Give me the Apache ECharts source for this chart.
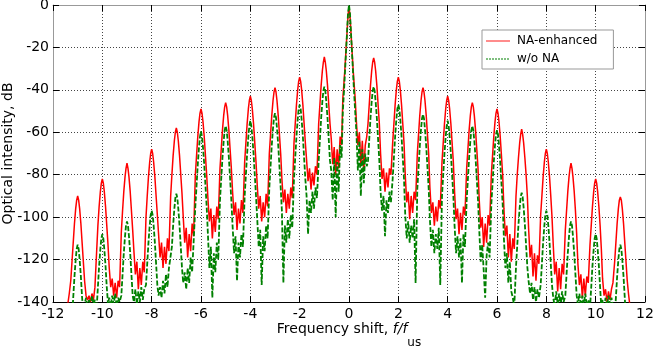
<!DOCTYPE html>
<html>
<head>
<meta charset="utf-8">
<script src="https://cdn.jsdelivr.net/npm/echarts@6/dist/echarts.min.js"></script>
<style>
  html, body { margin: 0; padding: 0; background: #fff; }
  #chart { width: 654px; height: 346px; }
</style>
</head>
<body>
<div id="chart"></div>
<script>
// axis ranges (frequency shift in units of f_us, intensity in dB)
const xRange = [-12, 12];
const yRange = [-140, 0];
const seriesNames = ['NA-enhanced', 'w/o NA'];

// NA-enhanced spectrum, [f/f_us, dB]
const naEnhanced = [
  [-11.40,-141],[-11.34,-136],[-11.28,-130],
  // -11
  [-11.23,-121],[-11.18,-112],[-11.13,-103],[-11.08,-96],[-11.04,-92],[-11.00,-90],[-10.96,-92],[-10.92,-96],[-10.87,-103],[-10.82,-112],[-10.77,-121],
  [-10.72,-130],[-10.66,-137],[-10.60,-139],[-10.54,-137],[-10.48,-140],[-10.42,-136],[-10.36,-139],[-10.30,-133],
  // -10
  [-10.23,-116],[-10.18,-104],[-10.13,-95],[-10.08,-88],[-10.04,-84],[-10.00,-82],[-9.96,-84],[-9.92,-88],[-9.87,-95],[-9.82,-104],[-9.77,-113],
  [-9.72,-124],[-9.66,-133],[-9.60,-129],[-9.54,-137],[-9.48,-131],[-9.42,-138],[-9.36,-130],[-9.30,-133],
  // -9
  [-9.23,-107],[-9.18,-97],[-9.13,-88],[-9.08,-81],[-9.04,-77],[-9.00,-74.5],[-8.96,-77],[-8.92,-81],[-8.87,-88],[-8.82,-97],[-8.77,-106],
  [-8.72,-116],[-8.66,-127],[-8.60,-121],[-8.54,-134],[-8.48,-124],[-8.42,-132],[-8.36,-121],[-8.30,-126],
  // -8
  [-8.23,-100],[-8.18,-90],[-8.13,-81],[-8.08,-74],[-8.04,-70],[-8.00,-68],[-7.96,-70],[-7.92,-74],[-7.87,-81],[-7.82,-90],[-7.77,-99],
  [-7.72,-108],[-7.66,-119],[-7.60,-112],[-7.54,-124],[-7.48,-114],[-7.42,-122],[-7.36,-110],[-7.30,-116],
  // -7
  [-7.23,-90],[-7.18,-80],[-7.13,-71],[-7.08,-64],[-7.04,-60],[-7.00,-58],[-6.96,-60],[-6.92,-64],[-6.87,-71],[-6.82,-80],[-6.77,-89],
  [-6.72,-100],[-6.66,-112],[-6.60,-105],[-6.54,-119],[-6.48,-108],[-6.42,-116],[-6.36,-103],[-6.30,-109],
  // -6
  [-6.23,-80],[-6.18,-71],[-6.13,-62],[-6.08,-55],[-6.04,-51],[-6.00,-49],[-5.96,-51],[-5.92,-55],[-5.87,-62],[-5.82,-71],[-5.77,-80],
  [-5.72,-91],[-5.66,-102],[-5.60,-96],[-5.54,-110],[-5.48,-99],[-5.42,-107],[-5.36,-95],[-5.30,-101],
  // -5
  [-5.23,-77],[-5.18,-68],[-5.13,-59],[-5.08,-52],[-5.04,-48],[-5.00,-46],[-4.96,-48],[-4.92,-52],[-4.87,-59],[-4.82,-68],[-4.77,-77],
  [-4.72,-88],[-4.66,-99],[-4.60,-93],[-4.54,-106],[-4.48,-96],[-4.42,-103],[-4.36,-92],[-4.30,-98],
  // -4
  [-4.23,-74],[-4.18,-65],[-4.13,-56],[-4.08,-49],[-4.04,-45],[-4.00,-43],[-3.96,-45],[-3.92,-49],[-3.87,-56],[-3.82,-65],[-3.77,-74],
  [-3.72,-85],[-3.66,-96],[-3.60,-90],[-3.54,-102],[-3.48,-93],[-3.42,-100],[-3.36,-89],[-3.30,-95],
  // -3
  [-3.23,-70],[-3.18,-61],[-3.13,-52],[-3.08,-45],[-3.04,-41],[-3.00,-39],[-2.96,-41],[-2.92,-45],[-2.87,-52],[-2.82,-61],[-2.77,-70],
  [-2.72,-82],[-2.66,-93],[-2.60,-87],[-2.54,-98],[-2.48,-89],[-2.42,-96],[-2.36,-86],[-2.30,-91],
  // -2
  [-2.23,-65],[-2.18,-56],[-2.13,-47],[-2.08,-40],[-2.04,-36],[-2.00,-34],[-1.96,-36],[-1.92,-40],[-1.87,-47],[-1.82,-56],[-1.77,-65],
  [-1.72,-73],[-1.66,-83],[-1.60,-77],[-1.54,-87],[-1.48,-79],[-1.42,-85],[-1.36,-76],[-1.30,-80],
  // -1
  [-1.23,-56],[-1.18,-47],[-1.13,-38],[-1.08,-31],[-1.04,-27],[-1.00,-24.5],[-0.96,-27],[-0.92,-31],[-0.87,-38],[-0.82,-47],[-0.77,-56],
  [-0.72,-63],[-0.66,-75],[-0.60,-67],[-0.54,-80],[-0.48,-68],[-0.42,-77],[-0.36,-62],[-0.30,-66],
  // 0
  [-0.25,-44],[-0.20,-36],[-0.16,-29],[-0.12,-21],[-0.08,-13],[-0.04,-5],[0.00,-1],[0.04,-5],[0.08,-13],[0.12,-21],[0.16,-29],[0.20,-36],[0.25,-44],
  [0.30,-55],[0.36,-66],[0.42,-60],[0.48,-76],[0.54,-64],[0.60,-78],[0.66,-66],[0.72,-62],
  // 1
  [0.77,-56],[0.82,-47],[0.87,-38],[0.92,-31],[0.96,-27],[1.00,-25],[1.04,-27],[1.08,-31],[1.13,-38],[1.18,-47],[1.23,-56],
  [1.28,-70],[1.34,-82],[1.40,-77],[1.46,-88],[1.52,-79],[1.58,-86],[1.64,-77],[1.70,-80],
  // 2
  [1.77,-65],[1.82,-56],[1.87,-47],[1.92,-40],[1.96,-36],[2.00,-34],[2.04,-36],[2.08,-40],[2.13,-47],[2.18,-56],[2.23,-65],
  [2.28,-80],[2.34,-93],[2.40,-88],[2.46,-101],[2.52,-90],[2.58,-98],[2.64,-88],[2.70,-92],
  // 3
  [2.77,-70],[2.82,-61],[2.87,-52],[2.92,-45],[2.96,-41],[3.00,-39],[3.04,-41],[3.08,-45],[3.13,-52],[3.18,-61],[3.23,-70],
  [3.28,-86],[3.34,-98],[3.40,-93],[3.46,-104],[3.52,-95],[3.58,-102],[3.64,-92],[3.70,-96],
  // 4
  [3.77,-74],[3.82,-65],[3.87,-56],[3.92,-49],[3.96,-45],[4.00,-43],[4.04,-45],[4.08,-49],[4.13,-56],[4.18,-65],[4.23,-74],
  [4.28,-88],[4.34,-101],[4.40,-96],[4.46,-108],[4.52,-98],[4.58,-106],[4.64,-95],[4.70,-99],
  // 5
  [4.77,-77],[4.82,-68],[4.87,-59],[4.92,-52],[4.96,-48],[5.00,-46],[5.04,-48],[5.08,-52],[5.13,-59],[5.18,-68],[5.23,-77],
  [5.28,-92],[5.34,-105],[5.40,-100],[5.46,-114],[5.52,-103],[5.58,-112],[5.64,-99],[5.70,-104],
  // 6
  [5.77,-80],[5.82,-71],[5.87,-62],[5.92,-55],[5.96,-51],[6.00,-49],[6.04,-51],[6.08,-55],[6.13,-62],[6.18,-71],[6.23,-80],
  [6.28,-96],[6.34,-109],[6.40,-104],[6.46,-119],[6.52,-108],[6.58,-121],[6.64,-110],[6.70,-115],
  // 7
  [6.77,-90],[6.82,-80],[6.87,-72],[6.92,-65],[6.96,-61],[7.00,-58.5],[7.04,-61],[7.08,-65],[7.13,-72],[7.18,-80],[7.23,-90],
  [7.28,-105],[7.34,-119],[7.40,-113],[7.46,-128],[7.52,-117],[7.58,-130],[7.64,-118],[7.70,-122],
  // 8
  [7.77,-99],[7.82,-90],[7.87,-81],[7.92,-74],[7.96,-70],[8.00,-68],[8.04,-70],[8.08,-74],[8.13,-81],[8.18,-90],[8.23,-100],
  [8.28,-113],[8.34,-127],[8.40,-121],[8.46,-135],[8.52,-124],[8.58,-134],[8.64,-122],[8.70,-127],
  // 9
  [8.77,-106],[8.82,-97],[8.87,-88],[8.92,-81],[8.96,-77],[9.00,-74.5],[9.04,-77],[9.08,-81],[9.13,-88],[9.18,-97],[9.23,-108],
  [9.28,-122],[9.34,-132],[9.40,-127],[9.46,-138],[9.52,-129],[9.58,-137],[9.64,-128],[9.70,-131],
  // 10
  [9.77,-113],[9.82,-104],[9.87,-95],[9.92,-88],[9.96,-84],[10.00,-82],[10.04,-84],[10.08,-88],[10.13,-95],[10.18,-104],[10.23,-115],
  [10.28,-129],[10.34,-137],[10.40,-134],[10.46,-140],[10.52,-135],[10.58,-139],[10.64,-134],[10.70,-131],
  // 11
  [10.77,-121],[10.82,-112],[10.87,-103],[10.92,-96],[10.96,-92],[11.00,-90.5],[11.04,-92],[11.08,-96],[11.13,-103],[11.18,-112],[11.23,-121],
  [11.28,-130],[11.33,-136],[11.38,-141]
];

// spectrum without NA
const withoutNA = [
  // -11
  [-11.23,-148],[-11.18,-138],[-11.13,-128],[-11.08,-120],[-11.04,-115],[-11.00,-113],[-10.96,-115],[-10.92,-120],[-10.87,-128],[-10.82,-138],[-10.77,-145],
  [-10.72,-141],[-10.66,-138],[-10.60,-143],[-10.54,-139],[-10.48,-142],[-10.42,-137],[-10.36,-141],[-10.30,-139],
  // -10
  [-10.23,-143],[-10.18,-133],[-10.13,-123],[-10.08,-115],[-10.04,-110],[-10.00,-108],[-9.96,-110],[-9.92,-115],[-9.87,-123],[-9.82,-133],[-9.77,-141],
  [-9.72,-138],[-9.66,-142],[-9.60,-137],[-9.54,-141],[-9.48,-136],[-9.42,-142],[-9.36,-138],[-9.30,-140],
  // -9
  [-9.23,-137],[-9.18,-127],[-9.13,-117],[-9.08,-109],[-9.04,-104],[-9.00,-102],[-8.96,-104],[-8.92,-109],[-8.87,-117],[-8.82,-127],[-8.77,-137],
  [-8.72,-140],[-8.66,-134],[-8.60,-141],[-8.54,-135],[-8.48,-140],[-8.42,-133],[-8.36,-139],[-8.30,-134],
  // -8
  [-8.23,-132],[-8.18,-122],[-8.13,-112],[-8.08,-104],[-8.04,-99],[-8.00,-97],[-7.96,-99],[-7.92,-104],[-7.87,-112],[-7.82,-122],[-7.77,-132],
  [-7.72,-137],[-7.66,-133],[-7.60,-138],[-7.54,-130],[-7.48,-136],[-7.42,-127],[-7.36,-133],[-7.30,-124],
  // -7
  [-7.23,-124],[-7.18,-114],[-7.13,-104],[-7.08,-96],[-7.04,-91],[-7.00,-89],[-6.96,-91],[-6.92,-96],[-6.87,-104],[-6.82,-114],[-6.77,-124],
  [-6.72,-131],[-6.66,-126],[-6.60,-134],[-6.54,-124],[-6.48,-131],[-6.42,-119],[-6.36,-126],[-6.30,-112],
  // -6
  [-6.23,-95],[-6.18,-85],[-6.13,-75],[-6.08,-67],[-6.04,-62],[-6.00,-59.5],[-5.96,-62],[-5.92,-67],[-5.87,-75],[-5.82,-85],[-5.77,-95],
  [-5.72,-108],[-5.66,-124],[-5.60,-114],[-5.54,-138],[-5.48,-117],[-5.42,-126],[-5.36,-112],[-5.30,-120],
  // -5
  [-5.23,-92],[-5.18,-82],[-5.13,-72],[-5.08,-64],[-5.04,-59],[-5.00,-57],[-4.96,-59],[-4.92,-64],[-4.87,-72],[-4.82,-82],[-4.77,-92],
  [-4.72,-104],[-4.66,-117],[-4.60,-109],[-4.54,-130],[-4.48,-112],[-4.42,-119],[-4.36,-108],[-4.30,-114],
  // -4
  [-4.23,-90],[-4.18,-80],[-4.13,-70],[-4.08,-62],[-4.04,-57],[-4.00,-54.5],[-3.96,-57],[-3.92,-62],[-3.87,-70],[-3.82,-80],[-3.77,-90],
  [-3.72,-101],[-3.66,-114],[-3.60,-106],[-3.54,-132],[-3.48,-109],[-3.42,-116],[-3.36,-104],[-3.30,-110],
  // -3
  [-3.23,-86],[-3.18,-76],[-3.13,-66],[-3.08,-58],[-3.04,-53],[-3.00,-51],[-2.96,-53],[-2.92,-58],[-2.87,-66],[-2.82,-76],[-2.77,-86],
  [-2.72,-97],[-2.66,-131],[-2.60,-104],[-2.54,-112],[-2.48,-101],[-2.42,-110],[-2.36,-99],[-2.30,-105],
  // -2
  [-2.23,-82],[-2.18,-72],[-2.13,-62],[-2.08,-54],[-2.04,-49],[-2.00,-47],[-1.96,-49],[-1.92,-54],[-1.87,-62],[-1.82,-72],[-1.77,-82],
  [-1.72,-90],[-1.66,-108],[-1.60,-92],[-1.54,-98],[-1.48,-88],[-1.42,-96],[-1.36,-86],[-1.30,-91],
  // -1
  [-1.23,-73.5],[-1.18,-63.5],[-1.13,-53.5],[-1.08,-45.5],[-1.04,-40.5],[-1.00,-38.5],[-0.96,-40.5],[-0.92,-45.5],[-0.87,-53.5],[-0.82,-63.5],[-0.77,-73.5],
  [-0.72,-78],[-0.66,-92],[-0.60,-72],[-0.54,-100],[-0.48,-74],[-0.42,-88],[-0.36,-66],[-0.30,-72],
  // 0
  [-0.25,-50],[-0.20,-40],[-0.16,-31],[-0.12,-22],[-0.08,-13],[-0.04,-4],[0.00,0],[0.04,-4],[0.08,-13],[0.12,-22],[0.16,-31],[0.20,-40],[0.25,-50],
  [0.30,-60],[0.36,-78],[0.42,-64],[0.48,-90],[0.54,-68],[0.60,-84],[0.66,-70],[0.72,-76],
  // 1
  [0.77,-73.5],[0.82,-63.5],[0.87,-53.5],[0.92,-45.5],[0.96,-40.5],[1.00,-38.5],[1.04,-40.5],[1.08,-45.5],[1.13,-53.5],[1.18,-63.5],[1.23,-73.5],
  [1.28,-88],[1.34,-97],[1.40,-90],[1.46,-109],[1.52,-92],[1.58,-98],[1.64,-88],[1.70,-93],
  // 2
  [1.77,-82],[1.82,-72],[1.87,-62],[1.92,-54],[1.96,-49],[2.00,-47],[2.04,-49],[2.08,-54],[2.13,-62],[2.18,-72],[2.23,-82],
  [2.28,-99],[2.34,-110],[2.40,-102],[2.46,-112],[2.52,-104],[2.58,-110],[2.64,-101],[2.70,-131],
  // 3
  [2.77,-86.5],[2.82,-76.5],[2.87,-66.5],[2.92,-58.5],[2.96,-53.5],[3.00,-51.5],[3.04,-53.5],[3.08,-58.5],[3.13,-66.5],[3.18,-76.5],[3.23,-86.5],
  [3.28,-101],[3.34,-114],[3.40,-106],[3.46,-117],[3.52,-108],[3.58,-115],[3.64,-105],[3.70,-132],
  // 4
  [3.77,-90],[3.82,-80],[3.87,-70],[3.92,-62],[3.96,-57],[4.00,-54.5],[4.04,-57],[4.08,-62],[4.13,-70],[4.18,-80],[4.23,-90],
  [4.28,-104],[4.34,-117],[4.40,-109],[4.46,-119],[4.52,-110],[4.58,-131],[4.64,-108],[4.70,-114],
  // 5
  [4.77,-92],[4.82,-82],[4.87,-72],[4.92,-64],[4.96,-59],[5.00,-57],[5.04,-59],[5.08,-64],[5.13,-72],[5.18,-82],[5.23,-92],
  [5.28,-106],[5.34,-121],[5.40,-113],[5.46,-125],[5.52,-138],[5.58,-118],[5.64,-112],[5.70,-119],
  // 6
  [5.77,-94],[5.82,-84],[5.87,-74],[5.92,-66],[5.96,-61],[6.00,-59],[6.04,-61],[6.08,-66],[6.13,-74],[6.18,-84],[6.23,-94],
  [6.28,-110],[6.34,-124],[6.40,-117],[6.46,-131],[6.52,-121],[6.58,-135],[6.64,-138],[6.70,-142],
  // 7
  [6.77,-123.5],[6.82,-113.5],[6.87,-103.5],[6.92,-95.5],[6.96,-90.5],[7.00,-88.5],[7.04,-90.5],[7.08,-95.5],[7.13,-103.5],[7.18,-113.5],[7.23,-123.5],
  [7.28,-130],[7.34,-136],[7.40,-131],[7.46,-139],[7.52,-133],[7.58,-140],[7.64,-134],[7.70,-138],
  // 8
  [7.77,-132],[7.82,-122],[7.87,-112],[7.92,-104],[7.96,-99],[8.00,-97],[8.04,-99],[8.08,-104],[8.13,-112],[8.18,-122],[8.23,-132],
  [8.28,-138],[8.34,-142],[8.40,-135],[8.46,-141],[8.52,-136],[8.58,-142],[8.64,-135],[8.70,-140],
  // 9
  [8.77,-137],[8.82,-127],[8.87,-117],[8.92,-109],[8.96,-104],[9.00,-102],[9.04,-104],[9.08,-109],[9.13,-117],[9.18,-127],[9.23,-137],
  [9.28,-141],[9.34,-136],[9.40,-142],[9.46,-137],[9.52,-141],[9.58,-136],[9.64,-142],[9.70,-139],
  // 10
  [9.77,-143],[9.82,-133],[9.87,-123],[9.92,-115],[9.96,-110],[10.00,-108],[10.04,-110],[10.08,-115],[10.13,-123],[10.18,-133],[10.23,-143],
  [10.28,-139],[10.34,-143],[10.40,-138],[10.46,-142],[10.52,-137],[10.58,-141],[10.64,-138],[10.70,-142],
  // 11
  [10.77,-148],[10.82,-138],[10.87,-128],[10.92,-120],[10.96,-115],[11.00,-113],[11.04,-115],[11.08,-120],[11.13,-128],[11.18,-138],[11.23,-148]
];

const FONT = 'DejaVu Sans';
const gridDots = { color: '#444', width: 1, type: [1, 2] };

const chart = echarts.init(document.getElementById('chart'), null, { renderer: 'canvas' });

const option = {
  animation: false,
  textStyle: { fontFamily: FONT },
  grid: { left: 53, right: 9, top: 5, bottom: 44, containLabel: false, outerBoundsMode: 'none' },
  legend: {
    left: 482,
    top: 30,
    orient: 'vertical',
    padding: [5, 16, 4, 3],
    itemWidth: 24,
    itemHeight: 12,
    itemGap: 6,
    borderColor: '#999',
    borderWidth: 1,
    borderRadius: 0,
    backgroundColor: '#fff',
    textStyle: { fontFamily: FONT, fontSize: 12, color: '#000', padding: [0, 0, 0, 2] },
    data: [
      { name: seriesNames[0], itemStyle: { opacity: 0 }, lineStyle: { color: '#ff8c8c', width: 2 } },
      { name: seriesNames[1], itemStyle: { opacity: 0 }, lineStyle: { color: '#008000', width: 1.2, type: [2, 1] } }
    ]
  },
  xAxis: [
    {
      type: 'value',
      min: xRange[0],
      max: xRange[1],
      interval: 2,
      position: 'bottom',
      axisLine: { onZero: false, lineStyle: { color: '#000', width: 1 } },
      axisTick: { inside: true, length: 6, lineStyle: { color: '#000' } },
      axisLabel: { color: '#000', fontSize: 14, fontFamily: FONT, margin: 5 },
      splitLine: { show: true, lineStyle: gridDots },
      name: '{n|Frequency shift, }{i|f/f}{s|us}',
      nameLocation: 'middle',
      nameMoveOverlap: false,
      nameGap: 20,
      nameTextStyle: {
        rich: {
          n: { fontSize: 14, fontFamily: FONT, color: '#000', verticalAlign: 'top', lineHeight: 27 },
          i: { fontSize: 14, fontFamily: FONT, fontStyle: 'italic', color: '#000', verticalAlign: 'top', lineHeight: 27 },
          s: { fontSize: 12, fontFamily: FONT, color: '#000', verticalAlign: 'bottom', lineHeight: 27 }
        }
      }
    },
    {
      type: 'value',
      min: xRange[0],
      max: xRange[1],
      interval: 2,
      position: 'top',
      axisLine: { onZero: false, lineStyle: { color: '#999', width: 1 } },
      axisTick: { inside: true, length: 6, lineStyle: { color: '#000' } },
      axisLabel: { show: false },
      splitLine: { show: false }
    }
  ],
  yAxis: [
    {
      type: 'value',
      min: yRange[0],
      max: yRange[1],
      interval: 20,
      position: 'left',
      axisLine: { show: true, onZero: false, lineStyle: { color: '#999', width: 1 } },
      axisTick: { show: true, inside: true, length: 6, lineStyle: { color: '#000' } },
      axisLabel: { color: '#000', fontSize: 14, fontFamily: FONT, margin: 4 },
      splitLine: { show: true, lineStyle: gridDots },
      name: 'Optical intensity, dB',
      nameLocation: 'middle',
      nameMoveOverlap: false,
      nameGap: 38,
      nameTextStyle: { fontSize: 14, fontFamily: FONT, color: '#000' }
    },
    {
      type: 'value',
      min: yRange[0],
      max: yRange[1],
      interval: 20,
      position: 'right',
      axisLine: { show: true, onZero: false, lineStyle: { color: '#999', width: 1 } },
      axisTick: { show: true, inside: true, length: 6, lineStyle: { color: '#000' } },
      axisLabel: { show: false },
      splitLine: { show: false }
    }
  ],
  series: [
    {
      name: seriesNames[0],
      type: 'line',
      xAxisIndex: 0,
      yAxisIndex: 0,
      data: naEnhanced,
      symbol: 'none',
      clip: true,
      lineStyle: { color: '#ff0000', width: 1.5 },
      itemStyle: { color: '#ff0000' },
      z: 2
    },
    {
      name: seriesNames[1],
      type: 'line',
      xAxisIndex: 0,
      yAxisIndex: 0,
      data: withoutNA,
      symbol: 'none',
      clip: true,
      lineStyle: { color: '#008000', width: 1.8, type: [5, 2] },
      itemStyle: { color: '#008000' },
      z: 3
    }
  ]
};

chart.setOption(option);
</script>
</body>
</html>
